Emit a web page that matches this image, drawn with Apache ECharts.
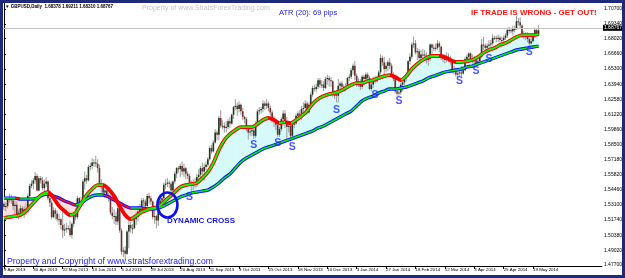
<!DOCTYPE html>
<html><head><meta charset="utf-8">
<script src="https://cdn.jsdelivr.net/npm/echarts@6/dist/echarts.min.js"></script>
<style>html,body{margin:0;padding:0;background:#fff}#c{width:625px;height:278px}</style>
</head><body><div id="c"></div>
<script>
// ---------- DATA ----------
const xTickLabels = ['9 Apr 2013','30 Apr 2013','22 May 2013','13 Jun 2013','5 Jul 2013','29 Jul 2013','20 Aug 2013','11 Sep 2013','3 Oct 2013','25 Oct 2013','18 Nov 2013','10 Dec 2013','3 Jan 2014','27 Jan 2014','18 Feb 2014','12 Mar 2014','3 Apr 2014','25 Apr 2014','19 May 2014'];
const TICK_EVERY = 16;       // bars between date labels
const TOTAL_SLOTS = 326;     // bar slots incl. empty right margin (chart shift)
const yTickValues = [1.70700,1.69340,1.68020,1.66660,1.65300,1.63940,1.62580,1.61220,1.59860,1.58500,1.57180,1.55820,1.54460,1.53100,1.51740,1.50380,1.49020,1.47700];
const Y_MIN = 1.4761, Y_MAX = 1.7123;
// daily candles [open, close, low, high]
const ohlc = [
[1.5320,1.5290,1.5260,1.5340],[1.5290,1.5300,1.5250,1.5330],[1.5300,1.5360,1.5280,1.5380],[1.5360,1.5370,1.5330,1.5410],[1.5370,1.5350,1.5320,1.5400],
[1.5350,1.5300,1.5260,1.5370],[1.5300,1.5310,1.5220,1.5350],[1.5310,1.5200,1.5190,1.5340],[1.5200,1.5240,1.5180,1.5270],[1.5240,1.5280,1.5210,1.5310],
[1.5280,1.5250,1.5220,1.5300],[1.5250,1.5270,1.5190,1.5300],[1.5270,1.5250,1.5220,1.5330],[1.5250,1.5390,1.5240,1.5410],[1.5390,1.5480,1.5370,1.5500],
[1.5480,1.5500,1.5460,1.5530],[1.5500,1.5530,1.5450,1.5550],[1.5530,1.5570,1.5500,1.5605],[1.5570,1.5440,1.5430,1.5590],[1.5440,1.5550,1.5430,1.5570],
[1.5550,1.5530,1.5500,1.5570],[1.5530,1.5460,1.5440,1.5560],[1.5460,1.5500,1.5430,1.5540],[1.5500,1.5520,1.5470,1.5560],[1.5520,1.5370,1.5350,1.5530],
[1.5370,1.5330,1.5290,1.5390],[1.5330,1.5200,1.5180,1.5350],[1.5200,1.5260,1.5190,1.5290],[1.5260,1.5230,1.5180,1.5280],[1.5230,1.5180,1.5160,1.5260],
[1.5180,1.5180,1.5130,1.5230],[1.5180,1.5130,1.5090,1.5190],[1.5130,1.5080,1.5010,1.5250],[1.5080,1.5090,1.5030,1.5140],[1.5090,1.5100,1.5060,1.5150],
[1.5100,1.5100,1.5080,1.5130],[1.5100,1.5040,1.5020,1.5170],[1.5040,1.5140,1.5008,1.5150],[1.5140,1.5230,1.5110,1.5250],[1.5230,1.5200,1.5170,1.5280],
[1.5200,1.5370,1.5180,1.5390],[1.5370,1.5330,1.5290,1.5380],[1.5330,1.5340,1.5300,1.5380],[1.5340,1.5520,1.5310,1.5540],[1.5520,1.5550,1.5450,1.5610],
[1.5550,1.5530,1.5500,1.5580],[1.5530,1.5650,1.5520,1.5670],[1.5650,1.5660,1.5620,1.5690],[1.5660,1.5690,1.5630,1.5730],[1.5690,1.5690,1.5650,1.5720],
[1.5690,1.5680,1.5650,1.5752],[1.5680,1.5640,1.5600,1.5720],[1.5640,1.5500,1.5480,1.5670],[1.5500,1.5480,1.5420,1.5540],[1.5480,1.5420,1.5380,1.5510],
[1.5420,1.5440,1.5370,1.5470],[1.5440,1.5400,1.5370,1.5470],[1.5400,1.5380,1.5340,1.5420],[1.5380,1.5240,1.5220,1.5400],[1.5240,1.5210,1.5180,1.5290],
[1.5210,1.5210,1.5140,1.5270],[1.5210,1.5160,1.5130,1.5250],[1.5160,1.5280,1.5130,1.5310],[1.5280,1.5080,1.5060,1.5290],[1.5080,1.4890,1.4860,1.5100],
[1.4890,1.4900,1.4840,1.4930],[1.4900,1.4870,1.4814,1.4940],[1.4870,1.5070,1.4860,1.5080],[1.5070,1.5130,1.4920,1.5180],[1.5130,1.5100,1.5060,1.5160],
[1.5100,1.5100,1.5050,1.5140],[1.5100,1.5180,1.5090,1.5220],[1.5180,1.5200,1.5130,1.5250],[1.5200,1.5250,1.5160,1.5300],[1.5250,1.5280,1.5220,1.5320],
[1.5280,1.5350,1.5260,1.5370],[1.5350,1.5340,1.5300,1.5370],[1.5340,1.5300,1.5260,1.5360],[1.5300,1.5390,1.5290,1.5410],[1.5390,1.5370,1.5320,1.5420],
[1.5370,1.5340,1.5310,1.5390],[1.5340,1.5200,1.5180,1.5350],[1.5200,1.5210,1.5140,1.5260],[1.5210,1.5170,1.5100,1.5220],[1.5170,1.5290,1.5120,1.5310],
[1.5290,1.5350,1.5270,1.5380],[1.5350,1.5370,1.5290,1.5400],[1.5370,1.5490,1.5360,1.5510],[1.5490,1.5500,1.5450,1.5540],[1.5500,1.5510,1.5470,1.5550],
[1.5510,1.5500,1.5460,1.5530],[1.5500,1.5440,1.5420,1.5520],[1.5440,1.5520,1.5410,1.5530],[1.5520,1.5590,1.5500,1.5610],[1.5590,1.5640,1.5550,1.5650],
[1.5640,1.5630,1.5600,1.5660],[1.5630,1.5660,1.5560,1.5680],[1.5660,1.5610,1.5580,1.5700],[1.5610,1.5640,1.5560,1.5680],[1.5640,1.5590,1.5540,1.5650],
[1.5590,1.5570,1.5540,1.5610],[1.5570,1.5510,1.5490,1.5590],[1.5510,1.5490,1.5430,1.5530],[1.5490,1.5500,1.5440,1.5540],[1.5500,1.5500,1.5460,1.5550],
[1.5500,1.5560,1.5470,1.5590],[1.5560,1.5580,1.5530,1.5630],[1.5580,1.5640,1.5550,1.5660],[1.5640,1.5610,1.5580,1.5690],[1.5610,1.5650,1.5530,1.5680],
[1.5650,1.5670,1.5620,1.5700],[1.5670,1.5720,1.5650,1.5740],[1.5720,1.5820,1.5710,1.5840],[1.5820,1.5790,1.5770,1.5850],[1.5790,1.5870,1.5780,1.5890],
[1.5870,1.5960,1.5860,1.5990],[1.5960,1.5940,1.5890,1.5980],[1.5940,1.6090,1.5890,1.6110],[1.6090,1.6020,1.6000,1.6160],[1.6020,1.6020,1.5990,1.6070],
[1.6020,1.6000,1.5960,1.6050],[1.6000,1.6010,1.5960,1.6060],[1.6010,1.6060,1.5990,1.6080],[1.6060,1.6040,1.6000,1.6100],[1.6040,1.6120,1.6030,1.6130],
[1.6120,1.6190,1.6080,1.6200],[1.6190,1.6200,1.6160,1.6259],[1.6200,1.6170,1.6110,1.6230],[1.6170,1.6210,1.6140,1.6240],[1.6210,1.6150,1.6120,1.6220],
[1.6150,1.6100,1.6070,1.6180],[1.6100,1.6080,1.6040,1.6110],[1.6080,1.5990,1.5970,1.6100],[1.5990,1.5960,1.5895,1.6000],[1.5960,1.5970,1.5930,1.6010],
[1.5970,1.5980,1.5930,1.6000],[1.5980,1.5930,1.5900,1.6010],[1.5930,1.6040,1.5910,1.6060],[1.6040,1.6150,1.6030,1.6170],[1.6150,1.6160,1.6120,1.6190],
[1.6160,1.6170,1.6130,1.6190],[1.6170,1.6220,1.6140,1.6250],[1.6220,1.6200,1.6160,1.6240],[1.6200,1.6220,1.6170,1.6260],[1.6220,1.6180,1.6150,1.6240],
[1.6180,1.6140,1.6110,1.6200],[1.6140,1.6070,1.6050,1.6160],[1.6070,1.6060,1.6010,1.6110],[1.6060,1.6030,1.5980,1.6080],[1.6030,1.5940,1.5920,1.6040],
[1.5940,1.5990,1.5920,1.6010],[1.5990,1.6080,1.5970,1.6100],[1.6080,1.6130,1.6060,1.6160],[1.6130,1.6050,1.6000,1.6160],[1.6050,1.6010,1.5900,1.6100],
[1.6010,1.6020,1.5960,1.6040],[1.6020,1.5930,1.5880,1.6050],[1.5930,1.6030,1.5910,1.6060],[1.6030,1.6040,1.6000,1.6080],[1.6040,1.6110,1.6030,1.6130],
[1.6110,1.6130,1.6080,1.6150],[1.6130,1.6130,1.6080,1.6160],[1.6130,1.6170,1.6070,1.6200],[1.6170,1.6180,1.6120,1.6230],[1.6180,1.6220,1.6160,1.6250],
[1.6220,1.6140,1.6120,1.6240],[1.6140,1.6210,1.6130,1.6230],[1.6210,1.6300,1.6190,1.6320],[1.6300,1.6360,1.6280,1.6380],[1.6360,1.6350,1.6330,1.6390],
[1.6350,1.6370,1.6320,1.6400],[1.6370,1.6430,1.6350,1.6449],[1.6430,1.6390,1.6360,1.6450],[1.6390,1.6390,1.6360,1.6430],[1.6390,1.6360,1.6330,1.6420],
[1.6360,1.6440,1.6350,1.6460],[1.6440,1.6450,1.6390,1.6480],[1.6450,1.6430,1.6370,1.6470],[1.6430,1.6420,1.6370,1.6460],[1.6420,1.6300,1.6280,1.6430],
[1.6300,1.6300,1.6260,1.6340],[1.6300,1.6290,1.6230,1.6340],[1.6290,1.6380,1.6230,1.6440],[1.6380,1.6400,1.6330,1.6420],[1.6400,1.6370,1.6340,1.6420],
[1.6370,1.6360,1.6330,1.6390],[1.6360,1.6370,1.6330,1.6400],[1.6370,1.6450,1.6360,1.6460],[1.6450,1.6460,1.6420,1.6490],
[1.6460,1.6520,1.6440,1.6540],[1.6520,1.6560,1.6480,1.6580],[1.6560,1.6470,1.6430,1.6603],[1.6470,1.6390,1.6370,1.6490],
[1.6390,1.6420,1.6370,1.6450],[1.6420,1.6370,1.6340,1.6440],[1.6370,1.6460,1.6350,1.6480],[1.6460,1.6440,1.6410,1.6480],[1.6440,1.6480,1.6400,1.6500],
[1.6480,1.6450,1.6420,1.6500],[1.6450,1.6350,1.6340,1.6470],[1.6350,1.6390,1.6330,1.6420],[1.6390,1.6440,1.6360,1.6460],[1.6440,1.6420,1.6400,1.6470],
[1.6420,1.6450,1.6410,1.6470],[1.6450,1.6500,1.6430,1.6520],[1.6500,1.6630,1.6480,1.6660],[1.6630,1.6590,1.6560,1.6650],[1.6590,1.6530,1.6480,1.6640],
[1.6530,1.6560,1.6500,1.6590],[1.6560,1.6590,1.6510,1.6610],[1.6590,1.6560,1.6530,1.6630],[1.6560,1.6480,1.6460,1.6580],[1.6480,1.6440,1.6420,1.6500],
[1.6440,1.6330,1.6310,1.6450],[1.6330,1.6310,1.6290,1.6360],[1.6310,1.6320,1.6290,1.6370],[1.6320,1.6390,1.6300,1.6410],[1.6390,1.6410,1.6330,1.6450],
[1.6410,1.6450,1.6380,1.6470],[1.6450,1.6480,1.6420,1.6500],[1.6480,1.6600,1.6460,1.6610],[1.6600,1.6640,1.6570,1.6670],[1.6640,1.6750,1.6620,1.6770],
[1.6750,1.6760,1.6720,1.6822],[1.6760,1.6680,1.6660,1.6790],[1.6680,1.6690,1.6610,1.6720],[1.6690,1.6630,1.6600,1.6710],[1.6630,1.6660,1.6600,1.6700],
[1.6660,1.6660,1.6620,1.6710],[1.6660,1.6650,1.6620,1.6700],[1.6650,1.6610,1.6580,1.6680],[1.6610,1.6620,1.6560,1.6660],[1.6620,1.6750,1.6600,1.6760],
[1.6750,1.6720,1.6650,1.6760],[1.6720,1.6720,1.6690,1.6750],[1.6720,1.6720,1.6690,1.6760],[1.6720,1.6760,1.6700,1.6790],[1.6760,1.6730,1.6680,1.6780],
[1.6730,1.6630,1.6610,1.6740],[1.6630,1.6620,1.6590,1.6660],[1.6620,1.6610,1.6580,1.6650],[1.6610,1.6640,1.6590,1.6680],[1.6640,1.6630,1.6590,1.6670],
[1.6630,1.6600,1.6570,1.6650],[1.6600,1.6520,1.6490,1.6620],[1.6520,1.6500,1.6480,1.6560],[1.6500,1.6480,1.6460,1.6540],[1.6480,1.6490,1.6460,1.6510],
[1.6490,1.6500,1.6470,1.6530],[1.6500,1.6490,1.6460,1.6560],[1.6490,1.6520,1.6480,1.6550],[1.6520,1.6620,1.6510,1.6640],[1.6620,1.6640,1.6590,1.6660],
[1.6640,1.6670,1.6600,1.6680],[1.6670,1.6620,1.6600,1.6680],[1.6620,1.6610,1.6580,1.6660],[1.6610,1.6610,1.6570,1.6650],[1.6610,1.6580,1.6550,1.6640],
[1.6580,1.6600,1.6560,1.6620],[1.6600,1.6640,1.6570,1.6660],[1.6640,1.6750,1.6630,1.6800],[1.6750,1.6740,1.6700,1.6820],[1.6740,1.6720,1.6690,1.6760],
[1.6720,1.6740,1.6680,1.6760],[1.6740,1.6750,1.6680,1.6790],[1.6750,1.6760,1.6720,1.6790],[1.6760,1.6810,1.6740,1.6842],[1.6810,1.6810,1.6790,1.6830],
[1.6810,1.6800,1.6770,1.6830],[1.6800,1.6810,1.6770,1.6840],[1.6810,1.6790,1.6770,1.6830],[1.6790,1.6790,1.6760,1.6820],[1.6790,1.6810,1.6770,1.6830],
[1.6810,1.6830,1.6790,1.6850],[1.6830,1.6880,1.6810,1.6900],[1.6880,1.6880,1.6850,1.6910],[1.6880,1.6870,1.6850,1.6900],[1.6870,1.6890,1.6830,1.6920],
[1.6890,1.6890,1.6860,1.6920],[1.6890,1.6960,1.6880,1.7006],[1.6960,1.6950,1.6920,1.6990],[1.6950,1.6920,1.6890,1.6996],[1.6920,1.6830,1.6810,1.6930],
[1.6830,1.6840,1.6800,1.6870],[1.6840,1.6820,1.6790,1.6860],[1.6820,1.6800,1.6770,1.6860],[1.6800,1.6760,1.6730,1.6810],[1.6760,1.6780,1.6750,1.6820],
[1.6780,1.6830,1.6770,1.6850],[1.6830,1.6880,1.6810,1.6900],[1.6880,1.6838,1.6830,1.6890],[1.68378,1.68767,1.68310,1.69211]
];
// moving averages, one value every MA_STEP bars (bar 0, 3, 6, ... 291)
const MA_STEP = 3;
const fastMA = [
1.5192,1.5201,1.5210,1.5219,1.5255,1.5309,1.5362,1.5407,1.5425,1.5371,
1.5300,1.5255,1.5219,1.5237,1.5318,1.5398,1.5452,1.5488,1.5488,1.5452,
1.5389,1.5300,1.5219,1.5183,1.5210,1.5246,1.5264,1.5282,1.5291,1.5336,
1.5380,1.5425,1.5470,1.5488,1.5497,1.5506,1.5551,1.5605,1.5686,1.5803,
1.5892,1.5946,1.5982,1.6009,1.6009,1.6009,1.6036,1.6072,1.6090,1.6072,
1.6045,1.6054,1.6045,1.6072,1.6108,1.6153,1.6216,1.6261,1.6287,1.6305,
1.6314,1.6332,1.6359,1.6386,1.6404,1.6404,1.6422,1.6431,1.6449,1.6467,
1.6476,1.6458,1.6431,1.6467,1.6530,1.6575,1.6611,1.6638,1.6647,1.6647,
1.6638,1.6611,1.6593,1.6593,1.6602,1.6611,1.6638,1.6674,1.6701,1.6719,
1.6745,1.6763,1.6790,1.6817,1.6835,1.6835,1.6835,1.6844];
const slowMA = [
1.5371,1.5371,1.5371,1.5362,1.5362,1.5362,1.5371,1.5398,1.5407,1.5389,
1.5371,1.5345,1.5327,1.5309,1.5327,1.5362,1.5389,1.5398,1.5398,1.5380,
1.5353,1.5327,1.5300,1.5282,1.5282,1.5282,1.5273,1.5273,1.5282,1.5300,
1.5327,1.5353,1.5380,1.5398,1.5416,1.5425,1.5434,1.5443,1.5470,1.5506,
1.5551,1.5587,1.5641,1.5695,1.5731,1.5758,1.5785,1.5812,1.5830,1.5847,
1.5865,1.5883,1.5901,1.5919,1.5937,1.5955,1.5973,1.6000,1.6018,1.6045,
1.6072,1.6099,1.6126,1.6153,1.6198,1.6243,1.6270,1.6287,1.6314,1.6332,
1.6350,1.6350,1.6359,1.6368,1.6386,1.6404,1.6422,1.6449,1.6467,1.6485,
1.6503,1.6512,1.6521,1.6530,1.6548,1.6557,1.6575,1.6593,1.6611,1.6629,
1.6647,1.6665,1.6683,1.6701,1.6710,1.6719,1.6728,1.6736];
// "S" annotations (bar index, price)
const sBars   = [101,136,149,157,181,202,215,248,257,264,286];
const sPrices = [1.5380,1.5847,1.5865,1.5830,1.6162,1.6296,1.6243,1.6422,1.6512,1.6620,1.6683];
// dynamic cross marker (bar index, price)
const crossBar = 89, crossPrice = 1.5309;
const ATR_TEXT = 'ATR (20): 69 pips';

// ---------- CHART ----------
const FONT = 'Liberation Sans, Arial, sans-serif';
const chart = echarts.init(document.getElementById('c'), null, {renderer:'canvas'});
const cats = Array.from({length: TOTAL_SLOTS}, (_, i) => String(i));
const last = ohlc[ohlc.length - 1];
const lastPrice = last[1];
const maData = arr => arr.map((v, k) => [k * MA_STEP, v]);
function slopePieces(arr, up, down) {
  const p = [];
  for (let k = 0; k < arr.length - 1; k++) {
    const piece = {gte: k * MA_STEP, color: arr[k + 1] >= arr[k] ? up : down};
    if (k < arr.length - 2) piece.lt = (k + 1) * MA_STEP; else piece.lte = (k + 1) * MA_STEP;
    p.push(piece);
  }
  return p;
}
const isTick = idx => idx % TICK_EVERY === 0 && idx / TICK_EVERY < xTickLabels.length;
const CYAN = '#d6fafa', PINK = '#fde0de';

function fillRender(params, api) {
  const k = api.value(0);
  if (k >= fastMA.length - 1) return;
  const x0 = k * MA_STEP, x1 = (k + 1) * MA_STEP;
  const f0 = fastMA[k], f1 = fastMA[k + 1], s0 = slowMA[k], s1 = slowMA[k + 1];
  const d0 = f0 - s0, d1 = f1 - s1;
  const P = (x, y) => api.coord([x, y]);
  const poly = (pts, col) => ({type:'polygon', shape:{points:pts}, style:{fill:col, stroke:col, lineWidth:0.6}});
  if (d0 * d1 >= 0) {
    return poly([P(x0,f0),P(x1,f1),P(x1,s1),P(x0,s0)], (d0 + d1) >= 0 ? CYAN : PINK);
  }
  const t = d0 / (d0 - d1);
  const xm = x0 + t * (x1 - x0), ym = f0 + t * (f1 - f0);
  return {type:'group', children:[
    poly([P(x0,f0),P(xm,ym),P(x0,s0)], d0 >= 0 ? CYAN : PINK),
    poly([P(xm,ym),P(x1,f1),P(x1,s1)], d1 >= 0 ? CYAN : PINK)
  ]};
}
function candleRender(params, api) {
  const i = api.value(0);
  const o = api.value(1), c = api.value(2), l = api.value(3), h = api.value(4);
  const pO = api.coord([i, o]), pC = api.coord([i, c]), pL = api.coord([i, l]), pH = api.coord([i, h]);
  const x = pO[0];
  const top = Math.min(pO[1], pC[1]), bot = Math.max(pO[1], pC[1]);
  return {type:'group', children:[
    {type:'line', shape:{x1:x, y1:pH[1], x2:x, y2:pL[1]}, style:{stroke:'#9c9c9c', lineWidth:1}},
    {type:'rect', shape:{x:x - 0.8, y:top, width:1.6, height:Math.max(bot - top, 1)}, style:{fill: c >= o ? '#1f361f' : '#6a3030'}}
  ]};
}
function crossRender(params, api) {
  const p = api.coord([api.value(0), api.value(1)]);
  return {type:'ellipse', shape:{cx:p[0], cy:p[1], rx:10, ry:12.5}, style:{fill:null, stroke:'#1010e8', lineWidth:2.6}};
}

const option = {
  animation: false,
  backgroundColor: '#ffffff',
  grid: {left: 3, right: 22, top: 3, bottom: 12},
  xAxis: [
    {type:'category', data:cats, boundaryGap:true,
     axisLine:{show:true, lineStyle:{color:'#000', width:1}},
     axisTick:{show:true, interval:isTick, alignWithLabel:true, length:3, lineStyle:{color:'#000'}},
     axisLabel:{interval:isTick, formatter:(v, idx) => xTickLabels[idx / TICK_EVERY], align:'left', fontSize:4.4, color:'#000', margin:2, fontFamily:FONT},
     splitLine:{show:false}},
    {type:'value', min:-0.5, max:TOTAL_SLOTS - 0.5, show:false}
  ],
  yAxis: {type:'value', position:'right', min:Y_MIN, max:Y_MAX,
    axisLine:{show:true, lineStyle:{color:'#000', width:1}},
    axisTick:{show:true, customValues:yTickValues, length:2, lineStyle:{color:'#000'}},
    axisLabel:{customValues:yTickValues, formatter:v => v.toFixed(5), fontSize:5, color:'#000', margin:2, fontFamily:FONT},
    splitLine:{show:false}},
  visualMap: [
    {type:'piecewise', show:false, seriesIndex:3, dimension:0, pieces:slopePieces(slowMA, '#00f000', '#ff1010')},
    {type:'piecewise', show:false, seriesIndex:5, dimension:0, pieces:slopePieces(fastMA, '#00ff00', '#ff0000')}
  ],
  series: [
    {type:'custom', name:'fill', xAxisIndex:1, renderItem:fillRender, data:fastMA.map((v, k) => [k]), encode:{x:0}, silent:true, z:1},
    {type:'custom', name:'candles', xAxisIndex:0, renderItem:candleRender, data:ohlc.map((d, i) => [i, d[0], d[1], d[2], d[3]]), encode:{x:0, y:[1,2,3,4]}, z:3},
    {type:'line', name:'slow', xAxisIndex:1, data:maData(slowMA), showSymbol:false, smooth:0.3, lineStyle:{color:'#1010ff', width:3.4}, z:4},
    {type:'line', name:'slowIn', xAxisIndex:1, data:maData(slowMA), showSymbol:false, smooth:0.3, lineStyle:{width:1.5}, z:5},
    {type:'line', name:'fast', xAxisIndex:1, data:maData(fastMA), showSymbol:false, smooth:0.3, lineStyle:{color:'#ff0000', width:3.8}, z:4,
     markLine:{silent:true, symbol:'none', data:[{yAxis:lastPrice}], lineStyle:{color:'#c4c4c4', width:1, type:'solid'},
       label:{position:'end', formatter:() => lastPrice.toFixed(5), backgroundColor:'#000', color:'#fff', fontSize:5, padding:[1,1,0,1], distance:1, fontFamily:FONT}}},
    {type:'line', name:'fastIn', xAxisIndex:1, data:maData(fastMA), showSymbol:false, smooth:0.3, lineStyle:{width:1.8}, z:5},
    {type:'scatter', name:'S', xAxisIndex:1, data:sBars.map((b, k) => [b, sPrices[k]]), symbolSize:1, itemStyle:{color:'rgba(0,0,0,0)'},
     label:{show:true, position:'inside', formatter:'S', color:'#1a2eff', fontSize:10.5, fontWeight:'bold', fontFamily:FONT}, z:6},
    {type:'custom', name:'cross', xAxisIndex:1, renderItem:crossRender, data:[[crossBar, crossPrice]], encode:{x:0, y:1}, z:6}
  ],
  graphic: [
    {type:'rect', z:100, shape:{x:1.5, y:1.5, width:622, height:275}, style:{fill:null, stroke:'#1f2b7a', lineWidth:3}},
    {type:'text', z:100, x:5, y:7, style:{text:'\u25BC GBPUSD,Daily  ' + [last[0], last[3], last[2], last[1]].map(v => v.toFixed(5)).join(' '), fontSize:4.5, fontWeight:'bold', fill:'#000', fontFamily:FONT, verticalAlign:'middle'}},
    {type:'text', z:100, x:142, y:8, style:{text:'Property of www.StratsForexTrading.com', fontSize:7, fill:'#c4c4c4', fontFamily:FONT, verticalAlign:'middle'}},
    {type:'text', z:100, x:279, y:13, style:{text:ATR_TEXT, fontSize:7.5, fill:'#1c1ccc', fontFamily:FONT, verticalAlign:'middle'}},
    {type:'text', z:100, x:471, y:13, style:{text:'IF TRADE IS WRONG - GET OUT!', fontSize:8, fontWeight:'bold', fill:'#ff1414', fontFamily:FONT, verticalAlign:'middle'}},
    {type:'text', z:100, x:167, y:221, style:{text:'DYNAMIC CROSS', fontSize:8, fontWeight:'bold', fill:'#1414e0', fontFamily:FONT, verticalAlign:'middle'}},
    {type:'text', z:100, x:7, y:262, style:{text:'Property and Copyright of www.stratsforextrading.com', fontSize:8.6, fill:'#1c1cff', fontFamily:FONT, verticalAlign:'middle'}}
  ]
};
chart.setOption(option);
</script>
</body></html>
